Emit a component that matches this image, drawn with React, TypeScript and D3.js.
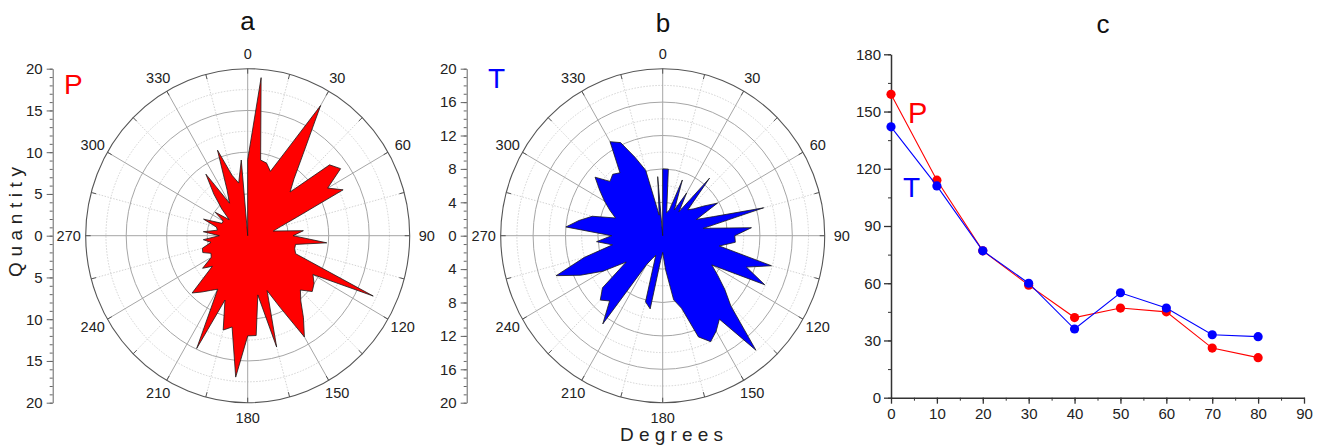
import { useEffect, useRef } from "react";
import * as d3 from "d3";

// angle bins (degrees, clockwise from north)
const angles = [
  0, 5, 10, 15, 20, 25, 30, 35, 40, 45, 50, 55, 60, 65, 70, 75, 80, 85,
  90, 95, 100, 105, 110, 115, 120, 125, 130, 135, 140, 145, 150, 155, 160, 165, 170, 175,
  180, 185, 190, 195, 200, 205, 210, 215, 220, 225, 230, 235, 240, 245, 250, 255, 260, 265,
  270, 275, 280, 285, 290, 295, 300, 305, 310, 315, 320, 325, 330, 335, 340, 345, 350, 355,
];

// quantity per bin, panel a (P)
const pValues = [
  9.1, 19.0, 9.2, 9.0, 8.2, 11.2, 18.0, 11.9, 8.9, 7.4, 13.2, 14.0, 11.4, 13.0, 6.4, 4.2, 3.2, 6.9,
  5.6, 9.8, 6.0, 6.0, 6.3, 17.1, 9.3, 10.0, 10.4, 9.2, 10.2, 12.0, 14.0, 9.5, 7.0, 13.8, 7.2, 12.0,
  12.0, 17.0, 11.1, 11.7, 8.2, 14.9, 7.4, 8.0, 8.8, 9.7, 5.7, 6.8, 5.2, 5.0, 5.9, 5.8, 4.6, 5.5,
  3.5, 5.5, 3.8, 4.0, 5.8, 3.5, 3.5, 4.9, 3.0, 4.5, 6.5, 9.0, 4.5, 6.0, 10.9, 7.5, 6.4, 9.1,
];

// quantity per bin, panel b (T)
const tValues = [
  8.0, 8.0, 2.8, 3.2, 7.1, 3.4, 5.9, 3.5, 9.0, 4.4, 5.0, 6.2, 7.8, 4.6, 6.7, 12.9, 5.1, 11.0,
  8.9, 9.0, 7.1, 13.9, 11.0, 13.9, 7.0, 8.3, 10.0, 11.9, 17.9, 12.2, 13.2, 14.0, 12.9, 9.0, 7.8, 4.1,
  2.0, 3.0, 8.9, 8.2, 2.5, 3.0, 4.0, 12.9, 10.2, 10.9, 9.7, 5.5, 8.5, 11.2, 14.0, 10.0, 6.3, 8.2,
  6.3, 12.0, 10.5, 9.0, 6.2, 7.2, 8.3, 9.5, 10.9, 9.2, 9.6, 9.2, 13.0, 12.3, 10.0, 8.1, 2.5, 7.1,
];

const angleLabels = [0, 30, 60, 90, 120, 150, 180, 210, 240, 270, 300, 330];
const ticksP = [-20, -15, -10, -5, 0, 5, 10, 15, 20];
const ticksT = [-20, -16, -12, -8, -4, 0, 4, 8, 12, 16, 20];

// panel c
const distance = [0, 10, 20, 30, 40, 50, 60, 70, 80];
const pCount = [159, 114, 77, 59, 42, 47, 45, 26, 21];
const tCount = [142, 111, 77, 60, 36, 55, 47, 33, 32];
const xTicksC = [0, 10, 20, 30, 40, 50, 60, 70, 80, 90];
const yTicksC = [0, 30, 60, 90, 120, 150, 180];

const font = "'Liberation Sans', Arial, sans-serif";

export default function App() {
  const svgRef = useRef<SVGSVGElement>(null);

  useEffect(() => {
    const svg = d3.select(svgRef.current);
    svg.selectAll("*").remove();

    const width = 1324;
    const height = 448;
    svg.attr("width", width).attr("height", height);

    const RX = 162;
    const RY = 167;

    function polar(cx, cy, values, color, step, letter, axisX, majors, letterPos) {
      const g = svg.append("g");
      const rX = d3.scaleLinear().domain([0, 20]).range([0, RX]);
      const rY = d3.scaleLinear().domain([0, 20]).range([0, RY]);

      // dotted minor rings
      const minor = d3.range(step / 2, 20, step);
      g.selectAll("ellipse.minor")
        .data(minor)
        .enter()
        .append("ellipse")
        .attr("cx", cx)
        .attr("cy", cy)
        .attr("rx", (d) => rX(d))
        .attr("ry", (d) => rY(d))
        .attr("fill", "none")
        .attr("stroke", "#c8c8c8")
        .attr("stroke-width", 0.8)
        .attr("stroke-dasharray", "1.5,1.5");

      // dotted spokes at 15 deg offsets
      const spokesMinor = d3.range(15, 360, 30);
      g.selectAll("line.minor")
        .data(spokesMinor)
        .enter()
        .append("line")
        .attr("x1", cx)
        .attr("y1", cy)
        .attr("x2", (d) => cx + RX * Math.sin((d * Math.PI) / 180))
        .attr("y2", (d) => cy - RY * Math.cos((d * Math.PI) / 180))
        .attr("stroke", "#c8c8c8")
        .attr("stroke-width", 0.8)
        .attr("stroke-dasharray", "1.5,1.5");

      // solid rings
      const major = d3.range(step, 20, step);
      g.selectAll("ellipse.major")
        .data(major)
        .enter()
        .append("ellipse")
        .attr("cx", cx)
        .attr("cy", cy)
        .attr("rx", (d) => rX(d))
        .attr("ry", (d) => rY(d))
        .attr("fill", "none")
        .attr("stroke", "#a6a6a6")
        .attr("stroke-width", 1);

      // solid spokes
      g.selectAll("line.major")
        .data(angleLabels)
        .enter()
        .append("line")
        .attr("x1", cx)
        .attr("y1", cy)
        .attr("x2", (d) => cx + RX * Math.sin((d * Math.PI) / 180))
        .attr("y2", (d) => cy - RY * Math.cos((d * Math.PI) / 180))
        .attr("stroke", "#a6a6a6")
        .attr("stroke-width", 1);

      // the filled rose
      const pts = angles.map((a, i) => {
        const rad = (a * Math.PI) / 180;
        return [cx + rX(values[i]) * Math.sin(rad), cy - rY(values[i]) * Math.cos(rad)];
      });
      g.append("path")
        .attr("d", d3.line()([[cx, cy], ...pts]) + "Z")
        .attr("fill", color)
        .attr("stroke", "#1a1a1a")
        .attr("stroke-width", 0.8)
        .attr("stroke-linejoin", "miter");

      // outer circle
      g.append("ellipse")
        .attr("cx", cx)
        .attr("cy", cy)
        .attr("rx", RX)
        .attr("ry", RY)
        .attr("fill", "none")
        .attr("stroke", "#555")
        .attr("stroke-width", 1.1);

      // ticks on outer circle
      g.selectAll("line.tick")
        .data(d3.range(0, 360, 15))
        .enter()
        .append("line")
        .attr("x1", (d) => cx + RX * Math.sin((d * Math.PI) / 180))
        .attr("y1", (d) => cy - RY * Math.cos((d * Math.PI) / 180))
        .attr("x2", (d) => cx + (RX - 5) * Math.sin((d * Math.PI) / 180))
        .attr("y2", (d) => cy - (RY - 5) * Math.cos((d * Math.PI) / 180))
        .attr("stroke", "#555")
        .attr("stroke-width", 1);

      // angle labels
      g.selectAll("text.ang")
        .data(angleLabels)
        .enter()
        .append("text")
        .attr("x", (d) => cx + (RX + 17) * Math.sin((d * Math.PI) / 180))
        .attr("y", (d) => cy - (RY + 15) * Math.cos((d * Math.PI) / 180))
        .attr("text-anchor", "middle")
        .attr("dominant-baseline", "central")
        .attr("font-family", font)
        .attr("font-size", 14.5)
        .attr("fill", "#222")
        .text((d) => d);

      // radial axis on the left
      const yAx = d3.scaleLinear().domain([20, -20]).range([cy - RY, cy + RY]);
      const axG = svg.append("g").attr("transform", `translate(${axisX},0)`);
      axG
        .call(
          d3
            .axisLeft(yAx)
            .tickValues(d3.range(-20, 21, 1))
            .tickSize(3)
            .tickFormat(() => "")
        )
        .call((s) => s.select(".domain").remove())
        .call((s) => s.selectAll("line").attr("stroke", "#666"));
      const axM = svg.append("g").attr("transform", `translate(${axisX},0)`);
      axM
        .call(
          d3
            .axisLeft(yAx)
            .tickValues(majors)
            .tickSize(6)
            .tickPadding(4)
            .tickSizeOuter(0)
            .tickFormat((d) => String(Math.abs(d)))
        )
        .call((s) => s.select(".domain").attr("stroke", "#666"))
        .call((s) => s.selectAll("line").attr("stroke", "#666"))
        .call((s) =>
          s
            .selectAll("text")
            .attr("font-family", font)
            .attr("font-size", 15)
            .attr("fill", "#222")
        );

      // letter
      svg
        .append("text")
        .attr("x", letterPos[0])
        .attr("y", letterPos[1])
        .attr("font-family", font)
        .attr("font-size", 28)
        .attr("fill", color)
        .text(letter);
    }

    polar(247.7, 235.7, pValues, "#ff0000", 5, "P", 52.7, ticksP, [64, 94]);
    polar(662.7, 235.7, tValues, "#0000ff", 4, "T", 466.7, ticksT, [488, 88]);

    // titles
    const titles = [
      ["a", 247.5, 30],
      ["b", 663, 32],
      ["c", 1103, 33],
    ];
    svg
      .selectAll("text.title")
      .data(titles)
      .enter()
      .append("text")
      .attr("x", (d) => d[1])
      .attr("y", (d) => d[2])
      .attr("text-anchor", "middle")
      .attr("font-family", font)
      .attr("font-size", 26)
      .attr("fill", "#111")
      .text((d) => d[0]);

    // axis titles
    svg
      .append("text")
      .attr("transform", "translate(22,277) rotate(-90)")
      .attr("font-family", font)
      .attr("font-size", 19)
      .attr("letter-spacing", 5.6)
      .attr("fill", "#222")
      .text("Quantity");
    svg
      .append("text")
      .attr("x", 620)
      .attr("y", 441)
      .attr("font-family", font)
      .attr("font-size", 19)
      .attr("letter-spacing", 5.2)
      .attr("fill", "#222")
      .text("Degrees");

    // panel c: line chart
    const x = d3.scaleLinear().domain([0, 90]).range([891, 1304]);
    const y = d3.scaleLinear().domain([0, 180]).range([397.7, 54.3]);

    const gx = svg.append("g").attr("transform", "translate(0,397.7)");
    gx.call(d3.axisBottom(x).tickValues(d3.range(0, 91, 5)).tickSize(3).tickFormat(() => ""))
      .call((s) => s.select(".domain").remove())
      .call((s) => s.selectAll("line").attr("stroke", "#333"));
    const gx2 = svg.append("g").attr("transform", "translate(0,397.7)");
    gx2
      .call(d3.axisBottom(x).tickValues(xTicksC).tickSize(6).tickSizeOuter(0).tickPadding(5))
      .call((s) => s.select(".domain").attr("stroke", "#333").attr("stroke-width", 1.5))
      .call((s) => s.selectAll("line").attr("stroke", "#333").attr("stroke-width", 1.3))
      .call((s) =>
        s.selectAll("text").attr("font-family", font).attr("font-size", 15).attr("fill", "#222")
      );

    const gy = svg.append("g").attr("transform", "translate(891,0)");
    gy.call(d3.axisLeft(y).tickValues(d3.range(0, 181, 15)).tickSize(3).tickFormat(() => ""))
      .call((s) => s.select(".domain").remove())
      .call((s) => s.selectAll("line").attr("stroke", "#333"));
    const gy2 = svg.append("g").attr("transform", "translate(891,0)");
    gy2
      .call(d3.axisLeft(y).tickValues(yTicksC).tickSize(7).tickSizeOuter(0).tickPadding(3))
      .call((s) => s.select(".domain").attr("stroke", "#333").attr("stroke-width", 1.5))
      .call((s) => s.selectAll("line").attr("stroke", "#333").attr("stroke-width", 1.3))
      .call((s) =>
        s.selectAll("text").attr("font-family", font).attr("font-size", 15).attr("fill", "#222")
      );

    const series = [
      { values: pCount, color: "#ff0000" },
      { values: tCount, color: "#0000ff" },
    ];
    const line = d3
      .line<number>()
      .x((d, i) => x(distance[i]))
      .y((d) => y(d));
    series.forEach((s) => {
      svg
        .append("path")
        .attr("d", line(s.values))
        .attr("fill", "none")
        .attr("stroke", s.color)
        .attr("stroke-width", 1.1);
      svg
        .selectAll(null)
        .data(s.values)
        .enter()
        .append("circle")
        .attr("cx", (d, i) => x(distance[i]))
        .attr("cy", (d) => y(d))
        .attr("r", 4.6)
        .attr("fill", s.color);
    });

    svg
      .append("text")
      .attr("x", 908)
      .attr("y", 123)
      .attr("font-family", font)
      .attr("font-size", 29)
      .attr("fill", "#ff0000")
      .text("P");
    svg
      .append("text")
      .attr("x", 903)
      .attr("y", 197)
      .attr("font-family", font)
      .attr("font-size", 28)
      .attr("fill", "#0000ff")
      .text("T");
  }, []);

  return (
    <div>
      <svg ref={svgRef} style={{ position: "absolute", left: 0, top: 0, background: "#fff" }}></svg>
    </div>
  );
}
